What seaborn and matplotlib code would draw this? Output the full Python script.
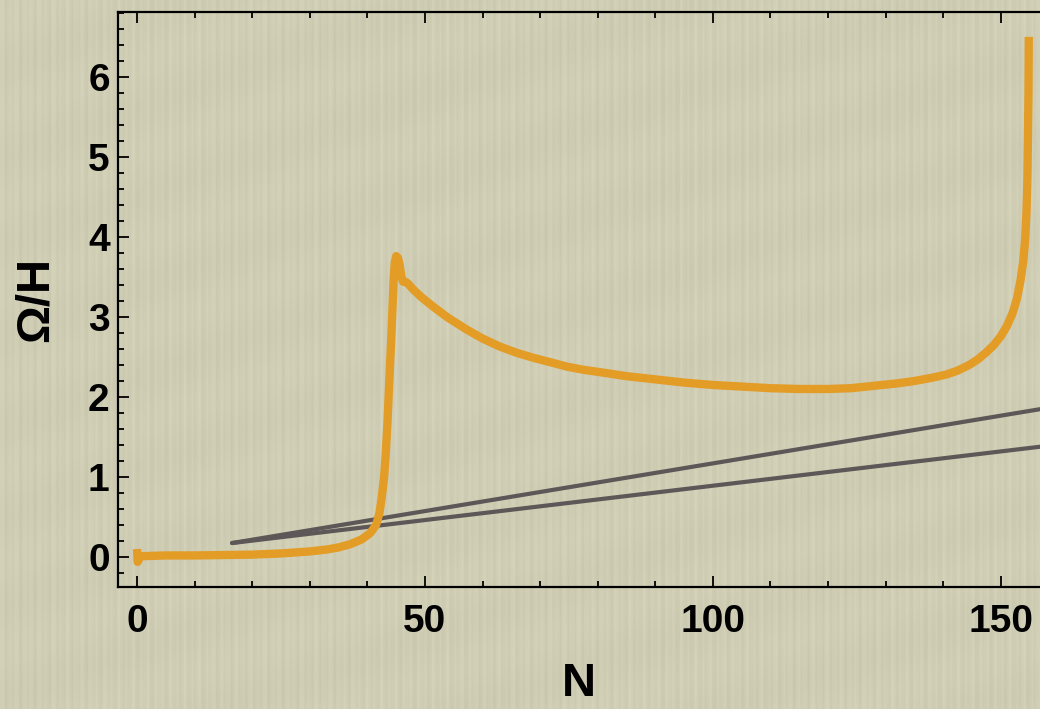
import matplotlib.pyplot as plt
import seaborn as sns
import numpy as np
import pandas as pd
from matplotlib.ticker import MultipleLocator

# orange curve Omega/H vs N
n_curve = [0.0, 0.1, 0.6, 5, 10, 15, 20, 25, 30, 33, 35, 37, 39, 40.5, 41.5, 42.1,
           42.5, 42.9, 43.2, 43.5, 43.8, 44.1, 44.35, 44.55, 44.75, 45.0, 45.3, 45.6,
           45.9, 46.2, 46.6, 47, 48, 49.5, 51.4, 54, 57.3, 60, 63, 66, 68.8, 72, 74.6,
           77.5, 80.4, 85, 90, 95, 100, 105, 110, 115, 120, 124, 128, 132, 135, 138,
           140.5, 142.5, 144.5, 146, 147.5, 148.8, 150, 151, 152, 152.8, 153.4, 153.9,
           154.2, 154.45, 154.6, 154.7, 154.8, 154.85]
omega_curve = [0.1, -0.06, 0.01, 0.02, 0.02, 0.025, 0.03, 0.045, 0.07, 0.095, 0.12, 0.16,
               0.22, 0.3, 0.4, 0.55, 0.75, 1.0, 1.3, 1.7, 2.2, 2.65, 3.1, 3.45, 3.68,
               3.76, 3.74, 3.65, 3.5, 3.44, 3.44, 3.42, 3.34, 3.24, 3.13, 2.99, 2.84,
               2.73, 2.63, 2.55, 2.49, 2.43, 2.38, 2.34, 2.31, 2.26, 2.22, 2.18, 2.15,
               2.13, 2.11, 2.1, 2.1, 2.11, 2.14, 2.17, 2.2, 2.24, 2.28, 2.33, 2.4, 2.47,
               2.56, 2.65, 2.76, 2.88, 3.04, 3.23, 3.45, 3.7, 3.95, 4.3, 4.7, 5.2, 5.8,
               6.5]

# two straight gray lines starting from a common point
n_lines = [16.5, 157.0]
upper_line = [0.175, 1.85]
lower_line = [0.175, 1.38]

bg = "#d0cdb4"
orange = "#e39c25"
gray = "#5e5758"

sns.set_theme(style="ticks")
plt.rcParams['font.family'] = ['Liberation Sans', 'DejaVu Sans']
plt.rcParams['font.weight'] = 'bold'
for k in ['text.color', 'axes.labelcolor', 'xtick.color', 'ytick.color']:
    plt.rcParams[k] = 'black'

fig = plt.figure(figsize=(10.4, 7.09), dpi=100, facecolor=bg)

# faint vertical-grain paper texture behind everything
bax = fig.add_axes([0, 0, 1, 1], zorder=-10)
xx, yy = np.meshgrid(np.arange(1040), np.arange(709))
grain = (0.5 * np.sin(2 * np.pi * xx / 7.3) + 0.3 * np.sin(2 * np.pi * xx / 13.1 + 1)
         + 0.2 * np.sin(2 * np.pi * xx / 3.7 + 2) + 0.25 * np.sin(2 * np.pi * yy / 90 + xx / 40))
base = np.array([208, 205, 181]) / 255
tex = np.clip(base[None, None, :] + 0.022 * grain[..., None], 0, 1)
bax.imshow(tex, aspect="auto", interpolation="bilinear")
bax.axis("off")

ax = fig.add_axes([0.1135, 0.172, 0.8865, 0.811])
ax.set_facecolor("none")

df_curve = pd.DataFrame({"N": n_curve, "ratio": omega_curve})
sns.lineplot(data=df_curve, x="N", y="ratio", sort=False, color=orange, lw=6,
             solid_capstyle="butt", ax=ax, zorder=3)
sns.lineplot(x=n_lines, y=upper_line, color=gray, lw=3, ax=ax, zorder=2)
sns.lineplot(x=n_lines, y=lower_line, color=gray, lw=3, ax=ax, zorder=2)

ax.set_xlim(-3.3, 156.8)
ax.set_ylim(-0.375, 6.81)
ax.xaxis.set_major_locator(MultipleLocator(50))
ax.xaxis.set_minor_locator(MultipleLocator(10))
ax.yaxis.set_major_locator(MultipleLocator(1))
ax.yaxis.set_minor_locator(MultipleLocator(0.2))
ax.tick_params(which="both", direction="in", top=True, right=False, color="black",
               width=1.3, labelsize=28)
ax.tick_params(axis="x", pad=12)
ax.tick_params(axis="y", pad=6)
ax.tick_params(which="major", length=8)
ax.tick_params(which="minor", length=4.5)
for lab in ax.get_xticklabels() + ax.get_yticklabels():
    lab.set_fontweight("bold")

for s in ["left", "bottom", "top"]:
    ax.spines[s].set_linewidth(1.6)
    ax.spines[s].set_color("black")
ax.spines["right"].set_visible(False)

ax.set_xlabel("N", fontsize=34, fontweight="bold", labelpad=16)
ax.set_ylabel("Ω/H", fontsize=34, fontweight="bold", labelpad=22)

plt.savefig("out.png", dpi=100, facecolor=bg)
